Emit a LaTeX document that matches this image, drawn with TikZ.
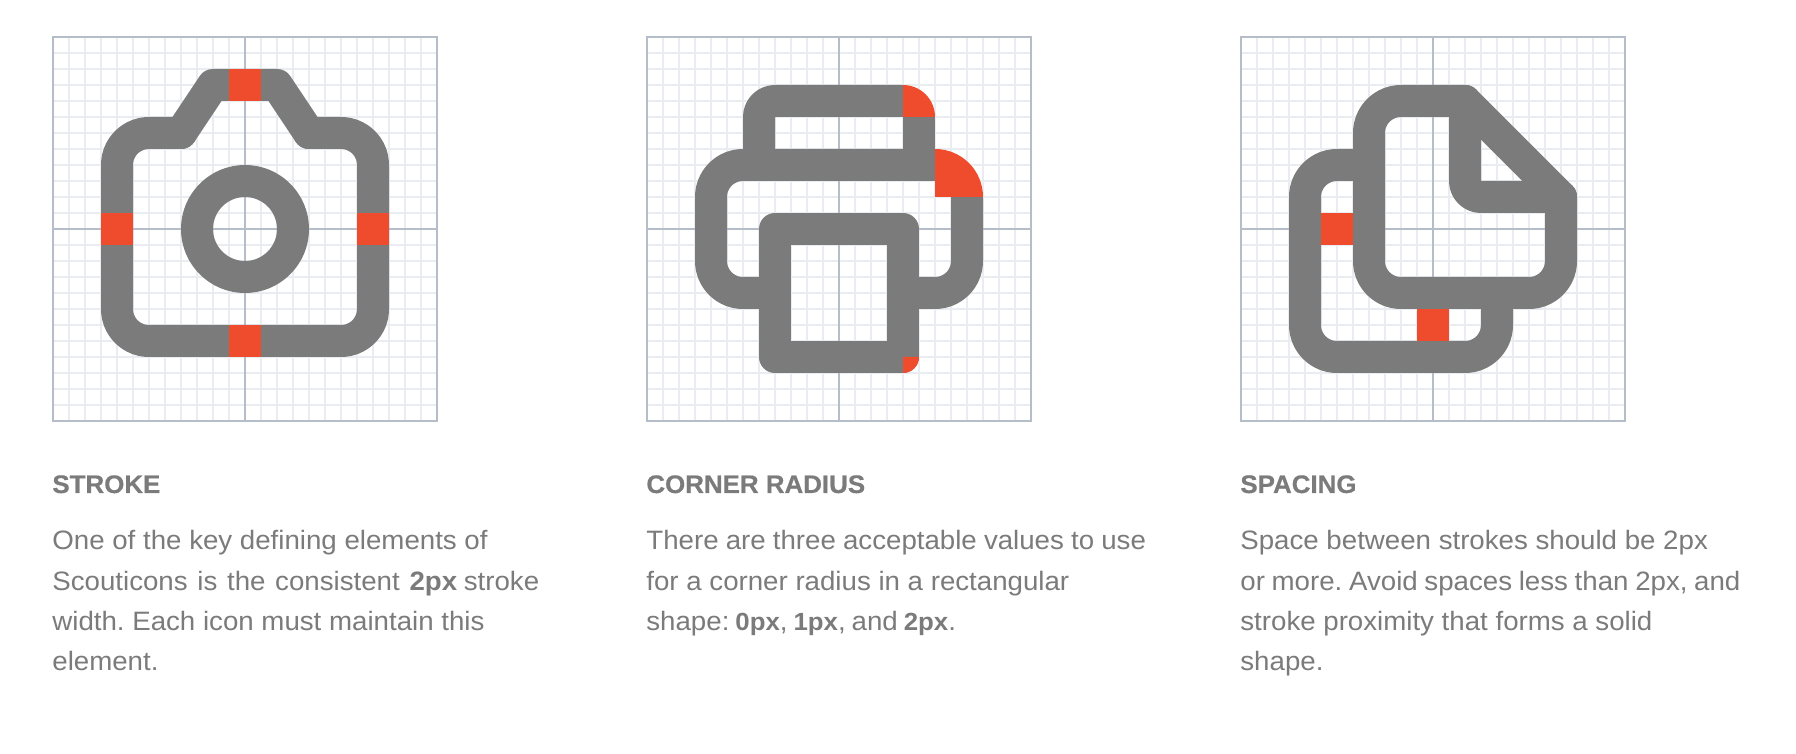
\documentclass[tikz,border=0pt]{standalone}
\usepackage{fontspec}
\setmainfont[FakeStretch=1.04]{Liberation Sans}
\newfontfamily\headfont[BoldFeatures={FakeBold=0.5,FakeStretch=1.02}]{Liberation Sans}
\newcommand{\narrowbold}[1]{{\fontsize{12.4pt}{15pt}\selectfont\bfseries #1}}
\definecolor{inkgray}{HTML}{7B7B7B}
\definecolor{mark}{HTML}{EE4C2C}
\definecolor{minorline}{HTML}{E9EDF1}
\definecolor{majorline}{HTML}{B5BDC9}
\tikzset{
  icon/.style={draw=inkgray,line width=16pt,line join=round},
  softcorner/.style={rounded corners=16pt},
  hit/.style={fill=mark},
  heading/.style={anchor=base west,inner sep=0pt,text=inkgray,font=\fontsize{12.7pt}{15pt}\selectfont\headfont\bfseries},
  para/.style={anchor=base west,inner sep=0pt,text=inkgray,font=\fontsize{13.3pt}{15pt}\selectfont\frenchspacing},
  panel/.pic={
    \foreach \i in {1,...,23} {
      \draw[minorline,line width=0.8pt] (\i,0) -- (\i,24);
      \draw[minorline,line width=0.8pt] (0,\i) -- (24,\i);
    }
    \draw[majorline,line width=0.8pt] (12,0) -- (12,24);
    \draw[majorline,line width=0.8pt] (0,12) -- (24,12);
    \draw[majorline,line width=1pt] (0,0) rectangle (24,24);
  }
}
\begin{document}
\begin{tikzpicture}[x=0.5pt,y=-0.5pt]
\useasboundingbox[fill=white] (0,0) rectangle (1796,754);

% Stroke panel
\begin{scope}[shift={(53,37)},x=8pt,y=-8pt]
  \pic {panel};
  \draw[icon,softcorner,line cap=round] (8,6) -- (4,6) -- (4,19) -- (20,19) -- (20,6) -- (16,6);
  \draw[icon,line cap=round] (8,6) -- (10,3) -- (14,3) -- (16,6);
  \draw[icon] (12,12) circle [radius=24pt];
  \fill[hit] (11,2) rectangle (13,4);
  \fill[hit] (3,11) rectangle (5,13);
  \fill[hit] (19,11) rectangle (21,13);
  \fill[hit] (11,18) rectangle (13,20);
\end{scope}

% Corner radius panel
\begin{scope}[shift={(647,37)},x=8pt,y=-8pt]
  \pic {panel};
  \draw[icon,rounded corners=8pt] (7,8) -- (7,4) -- (16,4);
  \draw[icon] (17,5) -- (17,8);
  \draw[icon,softcorner] (18,8) -- (4,8) -- (4,16) -- (8,16);
  \draw[icon,softcorner] (20,10) -- (20,16) -- (16,16);
  \draw[icon] (8,12) rectangle (16,20);
  \fill[hit] (16,5) -- (16,3) .. controls (17.105,3) and (18,3.895) .. (18,5) -- cycle;
  \fill[hit] (18,10) -- (18,7) .. controls (19.657,7) and (21,8.343) .. (21,10) -- cycle;
  \fill[hit] (16,20) -- (17,20) .. controls (17,20.552) and (16.552,21) .. (16,21) -- cycle;
\end{scope}

% Spacing panel
\begin{scope}[shift={(1241,37)},x=8pt,y=-8pt]
  \pic {panel};
  \draw[icon,softcorner] (8,8) -- (4,8) -- (4,20) -- (16,20) -- (16,16);
  \draw[icon,softcorner,line cap=round] (14,4) -- (8,4) -- (8,16) -- (20,16) -- (20,10);
  \draw[icon,line cap=round] (14,4) -- (20,10);
  \draw[icon,line cap=round,rounded corners=8pt] (14,4) -- (14,10) -- (20,10);
  \fill[hit] (5,11) rectangle (7,13);
  \fill[hit] (11,17) rectangle (13,19);
\end{scope}

% Captions
\node[heading] (h1) at (52,493) {STROKE};
\node[para] (a1) at (52,550) {One of the key defining elements of};
\node[para] (a2) at (52,590) {\spaceskip=4.85pt Scouticons is the consistent \textbf{2px}\kern-1.5pt{} stroke};
\node[para] (a3) at (52,630) {width. Each icon must maintain this};
\node[para] (a4) at (52,670) {element.};

\node[heading] (h2) at (646,493) {CORNER RADIUS};
\node[para] (b1) at (646,550) {\spaceskip=3.57pt There are three acceptable values to use};
\node[para] (b2) at (646,590) {for a corner radius in a rectangular};
\node[para] (b3) at (646,630) {\spaceskip=3pt shape: \narrowbold{0px}, \narrowbold{1px}, and \narrowbold{2px}.};

\node[heading] (h3) at (1240,493) {SPACING};
\node[para] (c1) at (1240,550) {Space between strokes should be 2px};
\node[para] (c2) at (1240,590) {\spaceskip=3.35pt or more. Avoid spaces less than 2px, and};
\node[para] (c3) at (1240,630) {stroke proximity that forms a solid};
\node[para] (c4) at (1240,670) {shape.};
\end{tikzpicture}
\end{document}
